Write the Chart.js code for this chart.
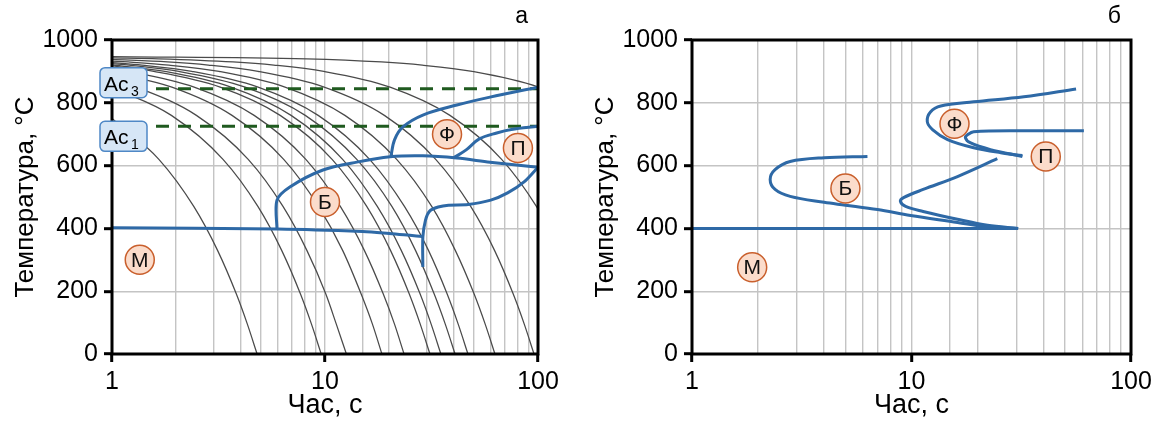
<!DOCTYPE html>
<html>
<head>
<meta charset="utf-8">
<script src="https://cdn.jsdelivr.net/npm/chart.js@4/dist/chart.umd.min.js"></script>
<style>
  body { margin: 0; background: #fff; }
  canvas { position: absolute; top: 0; }
</style>
</head>
<body>
<canvas id="chartA" width="575" height="426" style="left:0"></canvas>
<canvas id="chartB" width="579" height="426" style="left:580px"></canvas>
<script>
// ---- panel а: cooling curves (time in s at each temperature level) ----
var coolLevels = [940, 930, 920, 900, 850, 760, 620, 470, 330, 190, 95, 0];
var coolStart = [750, 849, 873, 897, 908, 918, 921, 925, 928, 933, 938, 943, 947];
var coolTimes = [
  [null, null, null, null, null, null, 1.66, 2.42, 3.13, 3.84, 4.32, 4.8],
  [null, null, null, null, null, 1.90, 3.32, 4.84, 6.26, 7.68, 8.64, 9.6],
  [null, null, null, null, 1.30, 2.49, 4.36, 6.35, 8.22, 10.1, 11.3, 12.6],
  [null, null, null, null, 1.91, 3.66, 6.40, 9.32, 12.1, 14.8, 16.7, 18.5],
  [null, null, null, 1.19, 2.43, 4.65, 8.13, 11.8, 15.3, 18.8, 21.2, 23.5],
  [null, null, null, 1.57, 3.22, 6.16, 10.8, 15.7, 20.3, 24.9, 28.0, 31.1],
  [null, null, null, 1.77, 3.62, 6.93, 12.1, 17.6, 22.8, 28.0, 31.5, 35.0],
  [null, null, 1.20, 2.06, 4.22, 8.08, 14.1, 20.6, 26.6, 32.6, 36.7, 40.8],
  [null, null, 1.38, 2.37, 4.85, 9.29, 16.2, 23.6, 30.6, 37.5, 42.2, 46.9],
  [null, 1.19, 1.85, 3.18, 6.49, 12.4, 21.7, 31.7, 40.9, 50.2, 56.5, 62.8],
  [null, 1.82, 2.83, 4.85, 9.91, 19.0, 33.1, 48.3, 62.5, 76.6, 86.2, 95.8],
  [1.65, 3.70, 5.75, 9.87, 20.2, 38.6, 67.5, 98.3, 127, null, null, null],
  [8.19, 18.4, 28.6, 49.1, 100.3, 192, null, null, null, null, null, null]
];

// transformation lines, panel а
var msA = [[1, 402], [6, 398], [15, 390], [20, 384], [25, 378], [28.8, 374]];
var bainiteA = [[5.95, 396], [5.95, 490], [6.84, 532], [9.78, 586], [14.1, 611], [20.2, 628], [28.8, 631], [41.6, 624], [59.5, 611], [100, 595]];
var bainiteEndA = [[28.8, 277], [28.8, 372], [29.6, 425], [31, 455], [34, 468], [38, 474], [47, 476], [60, 490], [72, 513], [86, 548], [100, 595]];
var ferriteA = [[20.4, 630], [21.2, 682], [23.2, 723], [28.8, 761], [41.6, 793], [59.5, 818], [100, 850]];
var pearliteA = [[40, 624], [46, 650], [53, 685], [64, 704], [75, 715], [100, 725]];
var acNames = ['3', '1'];
var acTemps = [845, 725];

// ---- panel б: isothermal C-curves ----
var msB = [[1, 400], [30.6, 400]];
var bainite1B = [[6.3, 629], [4.0, 625], [2.8, 613], [2.39, 587], [2.27, 556], [2.39, 524], [2.8, 502], [4.0, 483], [5.0, 474], [7.0, 460], [9.9, 441], [16.2, 419], [21.3, 406], [30.6, 400]];
var bainite2B = [[24.6, 622], [16.2, 565], [11.3, 524], [9.2, 498], [8.9, 486], [9.4, 470], [11.3, 454], [16.2, 429], [22.2, 410], [30.6, 400]];
var ferriteB = [[56.2, 844], [32.5, 819], [19.2, 803], [13.6, 790], [12.2, 771], [11.8, 740], [12.5, 714], [14.6, 683], [19.2, 657], [25.5, 641], [32, 632]];
var pearliteB = [[61, 711], [32.5, 711], [19.2, 708], [18, 698], [17.6, 689], [18.5, 673], [22.9, 651], [32, 629]];

// zone labels
var zoneNames = ['Ф', 'П', 'Б', 'М'];
var zoneTimesA = [37.4, 80.5, 10.0, 1.35];
var zoneTempsA = [700, 656, 484, 300];
var zoneTimesB = [15.7, 40.9, 5.0, 1.88];
var zoneTempsB = [733, 629, 527, 276];

var FONT = 'Liberation Sans, Arial, sans-serif';
var BLUE = '#2e69a6';
var GREEN = '#1f5a1f';

function pts(arr) {
  return arr.map(function (p) { return {x: p[0], y: p[1]}; });
}

function line(arr, color, width, order, extra) {
  var ds = {data: pts(arr), borderColor: color, borderWidth: width, pointRadius: 0,
    showLine: true, fill: false, tension: 0.35, order: order};
  return Object.assign(ds, extra || {});
}

var decor = {
  id: 'decor',
  afterDatasetsDraw: function (chart, args, opts) {
    var ctx = chart.ctx, a = chart.chartArea;
    var xs = chart.scales.x, ys = chart.scales.y;
    ctx.save();
    ctx.strokeStyle = '#000';
    ctx.lineWidth = 3;
    ctx.strokeRect(a.left, a.top, a.right - a.left, a.bottom - a.top);

    // Ac boxes
    (opts.boxes || []).forEach(function (b, i) {
      var cy = ys.getPixelForValue(b.t) + (i === 0 ? -6 : 10);
      var bx = a.left - 12, bw = 47, bh = 30, by = cy - bh / 2;
      ctx.beginPath();
      ctx.roundRect(bx, by, bw, bh, 5);
      ctx.fillStyle = '#d6e6f6';
      ctx.fill();
      ctx.lineWidth = 1.5;
      ctx.strokeStyle = '#4f88c6';
      ctx.stroke();
      ctx.fillStyle = '#000';
      ctx.textBaseline = 'alphabetic';
      ctx.textAlign = 'left';
      ctx.font = '21px ' + FONT;
      ctx.fillText('Ac', bx + 4, cy + 8);
      ctx.font = '14px ' + FONT;
      ctx.fillText(b.sub, bx + 31, cy + 13);
    });

    // zone circles
    opts.zones.forEach(function (z) {
      var px = xs.getPixelForValue(z.t), py = ys.getPixelForValue(z.T);
      ctx.beginPath();
      ctx.arc(px, py, 14.5, 0, Math.PI * 2);
      ctx.fillStyle = '#fbdccb';
      ctx.fill();
      ctx.lineWidth = 1.5;
      ctx.strokeStyle = '#c95f2c';
      ctx.stroke();
      ctx.fillStyle = '#111';
      ctx.font = '21px ' + FONT;
      ctx.textAlign = 'center';
      ctx.textBaseline = 'middle';
      ctx.fillText(z.name, px, py + 1);
    });

    // panel letter
    ctx.fillStyle = '#000';
    ctx.font = '23px ' + FONT;
    ctx.textAlign = 'right';
    ctx.textBaseline = 'middle';
    ctx.fillText(opts.letter, a.right - 10, 17);
    ctx.restore();
  }
};

function options(rightPad, letter, zones, boxes) {
  return {
    responsive: false,
    animation: false,
    layout: {padding: {left: 0, right: rightPad, top: 40, bottom: 0}},
    plugins: {
      legend: {display: false},
      tooltip: {enabled: false},
      decor: {letter: letter, zones: zones, boxes: boxes}
    },
    scales: {
      x: {
        type: 'logarithmic', min: 1, max: 100,
        border: {display: false},
        grid: {
          color: '#c4c4c4', lineWidth: 1.4, tickLength: 8, tickWidth: 3,
          tickColor: function (c) {
            var v = c.tick && c.tick.value;
            return (v === 1 || v === 10 || v === 100) ? '#000' : 'rgba(0,0,0,0)';
          }
        },
        ticks: {
          autoSkip: false, maxRotation: 0, padding: 5, color: '#000',
          font: {size: 25, family: FONT},
          callback: function (v) { return (v === 1 || v === 10 || v === 100) ? String(v) : ''; }
        },
        title: {display: true, text: 'Час, с', color: '#000', font: {size: 27, family: FONT}, padding: {top: 4, bottom: 4}},
        afterFit: function (s) { s.height = 72; }
      },
      y: {
        min: 0, max: 1000,
        border: {display: false},
        grid: {color: '#c4c4c4', lineWidth: 1.4, tickLength: 8, tickWidth: 3, tickColor: '#000'},
        ticks: {stepSize: 200, padding: 6, color: '#000', font: {size: 25, family: FONT},
          callback: function (v) { return String(v); }},
        title: {display: true, text: 'Температура, °С', color: '#000', font: {size: 26, family: FONT}, padding: {top: 10, bottom: 10}},
        afterFit: function (s) { s.width = 112; }
      }
    }
  };
}

function zones(times, temps) {
  return zoneNames.map(function (n, i) { return {name: n, t: times[i], T: temps[i]}; });
}

// panel а datasets
var dsA = [
  line(msA, BLUE, 3, 0),
  line(bainiteA, BLUE, 3, 0, {tension: 0.3}),
  line(bainiteEndA, BLUE, 3, 0, {tension: 0.3}),
  line(ferriteA, BLUE, 3, 0),
  line(pearliteA, BLUE, 3, 0)
];
acTemps.forEach(function (T) {
  dsA.push(line([[1, T], [100, T]], GREEN, 3, 1, {borderDash: [13, 9], tension: 0}));
});
coolTimes.forEach(function (row, k) {
  var p = [[1, coolStart[k]]];
  row.forEach(function (t, j) { if (t !== null) p.push([t, coolLevels[j]]); });
  dsA.push(line(p, '#4a4a4a', 1.25, 2, {tension: 0, cubicInterpolationMode: 'monotone'}));
});

new Chart(document.getElementById('chartA'), {
  type: 'scatter',
  data: {datasets: dsA},
  options: options(37, 'а', zones(zoneTimesA, zoneTempsA),
    acNames.map(function (s, i) { return {sub: s, t: acTemps[i]}; })),
  plugins: [decor]
});

// panel б datasets
var dsB = [
  line(msB, BLUE, 3, 0, {tension: 0}),
  line(bainite1B, BLUE, 3, 0),
  line(bainite2B, BLUE, 3, 0),
  line(ferriteB, BLUE, 3, 0),
  line(pearliteB, BLUE, 3, 0)
];

new Chart(document.getElementById('chartB'), {
  type: 'scatter',
  data: {datasets: dsB},
  options: options(28, 'б', zones(zoneTimesB, zoneTempsB), []),
  plugins: [decor]
});
</script>
</body>
</html>
